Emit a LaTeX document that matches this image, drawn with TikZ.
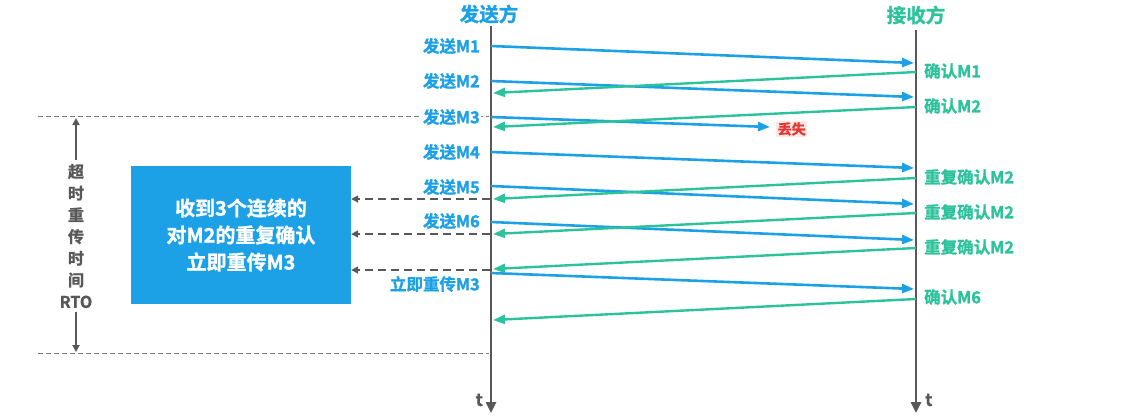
\documentclass[tikz,border=0pt]{standalone}
\usepackage{fontspec}
\setmainfont{Noto Sans CJK SC}[BoldFont={Noto Sans CJK SC Bold},BoldFeatures={FakeBold=1.2}]
\usetikzlibrary{arrows.meta}
\definecolor{cblue}{HTML}{1CA0E6}
\definecolor{cgreen}{HTML}{2CC39C}
\definecolor{cgray}{HTML}{585858}
\definecolor{cred}{HTML}{E3342F}
\definecolor{cpink}{HTML}{FDE6E6}
\begin{document}
\begin{tikzpicture}[x=1pt,y=-1pt,
  axis/.style={draw=cgray,line width=2.6pt,-{Triangle[length=11pt,width=10pt]}},
  sendarr/.style={draw=cblue,line width=2.6pt,-{Triangle[length=12pt,width=9pt]}},
  ackarr/.style={draw=cgreen,line width=2.4pt,-{Triangle[length=12pt,width=9pt]}},
  dasharr/.style={draw=cgray,line width=2pt,dash pattern=on 8pt off 5pt,-{Triangle[length=7pt,width=7pt]}},
  thindash/.style={draw=cgray!80,line width=0.9pt,dash pattern=on 5pt off 3pt},
  slbl/.style={text=cblue,font=\bfseries\fontsize{16.5}{18}\selectfont,anchor=east,inner sep=1pt},
  rlbl/.style={text=cgreen,font=\bfseries\fontsize{16.5}{18}\selectfont,anchor=west,inner sep=1pt},
  ttl/.style={font=\bfseries\fontsize{19.5}{21}\selectfont,inner sep=1pt},
  tlbl/.style={text=cgray,font=\bfseries\fontsize{17}{19}\selectfont,inner sep=1pt}]
\useasboundingbox (0,0) rectangle (1128,416);
\fill[white] (0,0) rectangle (1128,416);
% titles
\node[ttl,text=cblue] (ts) at (489,14) {发送方};
\node[ttl,text=cgreen] (tr) at (916,15) {接收方};
% axes
\coordinate (S0) at (491,26);
\coordinate (S1) at (491,413);
\coordinate (R0) at (916,30);
\coordinate (R1) at (916,413);
\draw[axis] (S0) -- (S1);
\draw[axis] (R0) -- (R1);
\node[tlbl,anchor=east] (tS) at (484,400) {t};
\node[tlbl,anchor=west] (tR) at (924,400) {t};
% thin dashed RTO boundaries
\coordinate (d1a) at (38,116); \coordinate (d1b) at (489,116);
\coordinate (d2a) at (38,353); \coordinate (d2b) at (489,353);
\draw[thindash] (d1a) -- (d1b);
\draw[thindash] (d2a) -- (d2b);
% sender arrows
\coordinate (s1) at (491,46);  \coordinate (r1) at (914,63);
\coordinate (s2) at (491,81);  \coordinate (r2) at (914,97);
\coordinate (s3) at (491,117); \coordinate (lost) at (770,127);
\coordinate (s4) at (491,152); \coordinate (r4) at (914,168);
\coordinate (s5) at (491,186); \coordinate (r5) at (914,204);
\coordinate (s6) at (491,222); \coordinate (r6) at (914,240);
\coordinate (s7) at (491,273); \coordinate (r7) at (914,289);
\draw[sendarr] (s1) -- (r1);
\draw[sendarr] (s2) -- (r2);
\draw[sendarr] (s3) -- (lost);
\draw[sendarr] (s4) -- (r4);
\draw[sendarr] (s5) -- (r5);
\draw[sendarr] (s6) -- (r6);
\draw[sendarr] (s7) -- (r7);
% ack arrows
\coordinate (a1) at (916,72);  \coordinate (b1) at (493,93);
\coordinate (a2) at (916,107); \coordinate (b2) at (493,127);
\coordinate (a3) at (916,178); \coordinate (b3) at (493,199);
\coordinate (a4) at (916,213); \coordinate (b4) at (493,234);
\coordinate (a5) at (916,248); \coordinate (b5) at (493,269);
\coordinate (a6) at (916,299); \coordinate (b6) at (493,320);
\draw[ackarr] (a1) -- (b1);
\draw[ackarr] (a2) -- (b2);
\draw[ackarr] (a3) -- (b3);
\draw[ackarr] (a4) -- (b4);
\draw[ackarr] (a5) -- (b5);
\draw[ackarr] (a6) -- (b6);
% sender labels
\node[slbl] (l1) at (481,46)  {发送M1};
\node[slbl] (l2) at (481,81)  {发送M2};
\node[slbl,fill=white] (l3) at (481,117) {发送M3};
\node[slbl] (l4) at (481,152) {发送M4};
\node[slbl] (l5) at (481,187) {发送M5};
\node[slbl] (l6) at (481,221) {发送M6};
\node[slbl] (l7) at (481,284) {立即重传M3};
% receiver labels
\node[rlbl] (k1) at (923,71)  {确认M1};
\node[rlbl] (k2) at (923,106) {确认M2};
\node[rlbl] (k3) at (923,177) {重复确认M2};
\node[rlbl] (k4) at (923,212) {重复确认M2};
\node[rlbl] (k5) at (923,247) {重复确认M2};
\node[rlbl] (k6) at (923,297) {确认M6};
% lost label
\node[fill=cpink,rounded corners=2pt,text=cred,font=\bfseries\fontsize{14}{16}\selectfont,inner sep=1.5pt,anchor=west] (lostl) at (776,129) {丢失};
% box
\node[fill=cblue,minimum width=220pt,minimum height=138pt,inner sep=0pt,
      text=white,align=center,font=\bfseries\fontsize{20}{27}\selectfont] (box) at (241,235)
  {收到3个连续的\\对M2的重复确认\\立即重传M3};
% dashed arrows to box
\coordinate (e1) at (490,199);
\coordinate (e2) at (490,234);
\coordinate (e3) at (490,270);
\draw[dasharr] (e1) -- (box.east |- e1);
\draw[dasharr] (e2) -- (box.east |- e2);
\draw[dasharr] (e3) -- (box.east |- e3);
% RTO
\node[text=cgray,align=center,font=\bfseries\fontsize{16}{21.7}\selectfont,inner sep=0pt] (rto) at (76,236)
  {超\\时\\重\\传\\时\\间\\RTO};
\coordinate (rtoT) at (76,118);
\coordinate (rtoB) at (76,352);
\draw[draw=cgray,line width=1.8pt,-{Triangle[length=7pt,width=7pt]}] (rto.north) ++(0,-4) -- (rtoT);
\draw[draw=cgray,line width=1.8pt,-{Triangle[length=7pt,width=7pt]}] (rto.south) ++(0,4) -- (rtoB);
\end{tikzpicture}
\end{document}
